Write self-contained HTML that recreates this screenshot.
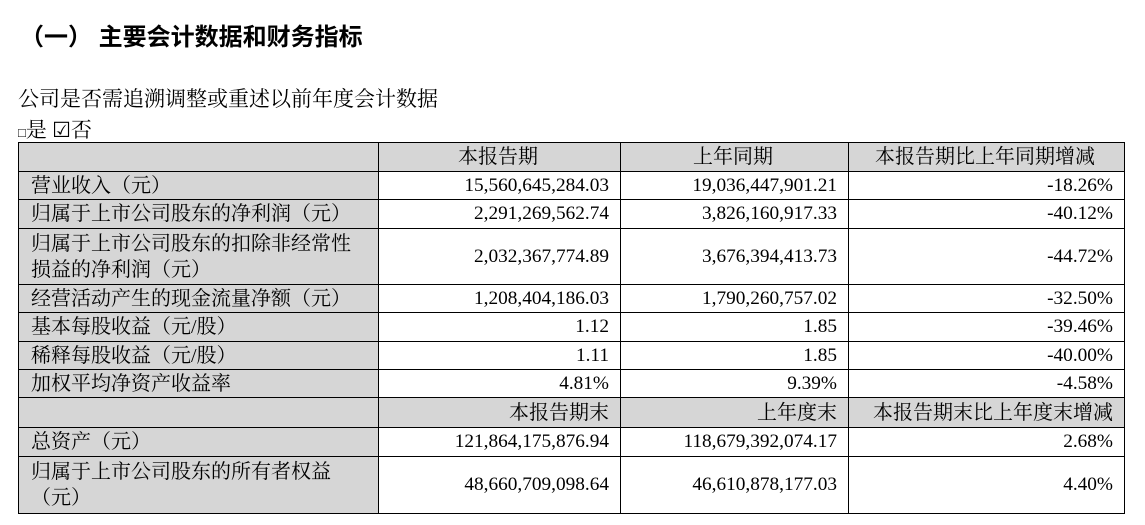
<!DOCTYPE html>
<html><head><meta charset="utf-8"><style>
body{margin:0;width:1145px;height:525px;background:#fff;font-family:"Liberation Serif","Noto Serif CJK SC",serif;color:#000;position:relative;overflow:hidden}
.t{position:absolute;white-space:nowrap}
table{position:absolute;left:18px;top:142px;border-collapse:collapse;table-layout:fixed;font-size:19.3px}
td{border:1.5px solid #000;padding:0 11px 0 8px;line-height:26px;white-space:nowrap;overflow:hidden}
td.g{background:#d6d6d6;font-size:20px}
td.l{padding-left:12px;text-align:left}
td.r{text-align:right}
td.c{text-align:center}
</style></head><body>
<div class="t" style="left:20px;top:17px;font-size:24px;font-weight:bold;font-family:'Liberation Sans','Noto Sans CJK SC',sans-serif">（一） 主要会计数据和财务指标</div>
<div class="t" style="left:18px;top:83px;font-size:21px">公司是否需追溯调整或重述以前年度会计数据</div>
<div class="t" style="left:18px;top:114px;font-size:21px"><span style="font-size:13px">□</span>是 ☑否</div>
<table>
<colgroup><col style="width:360px"><col style="width:242px"><col style="width:228px"><col style="width:276px"></colgroup>
<tr style="height:29px"><td class="g"></td><td class="g c">本报告期</td><td class="g c">上年同期</td><td class="g c">本报告期比上年同期增减</td></tr>
<tr style="height:28px"><td class="g l">营业收入（元）</td><td class="r">15,560,645,284.03</td><td class="r">19,036,447,901.21</td><td class="r">-18.26%</td></tr>
<tr style="height:29px"><td class="g l">归属于上市公司股东的净利润（元）</td><td class="r">2,291,269,562.74</td><td class="r">3,826,160,917.33</td><td class="r">-40.12%</td></tr>
<tr style="height:56px"><td class="g l">归属于上市公司股东的扣除非经常性<br>损益的净利润（元）</td><td class="r">2,032,367,774.89</td><td class="r">3,676,394,413.73</td><td class="r">-44.72%</td></tr>
<tr style="height:28px"><td class="g l">经营活动产生的现金流量净额（元）</td><td class="r">1,208,404,186.03</td><td class="r">1,790,260,757.02</td><td class="r">-32.50%</td></tr>
<tr style="height:29px"><td class="g l">基本每股收益（元/股）</td><td class="r">1.12</td><td class="r">1.85</td><td class="r">-39.46%</td></tr>
<tr style="height:28px"><td class="g l">稀释每股收益（元/股）</td><td class="r">1.11</td><td class="r">1.85</td><td class="r">-40.00%</td></tr>
<tr style="height:28px"><td class="g l">加权平均净资产收益率</td><td class="r">4.81%</td><td class="r">9.39%</td><td class="r">-4.58%</td></tr>
<tr style="height:30px"><td class="g"></td><td class="g r">本报告期末</td><td class="g r">上年度末</td><td class="g r">本报告期末比上年度末增减</td></tr>
<tr style="height:29px"><td class="g l">总资产（元）</td><td class="r">121,864,175,876.94</td><td class="r">118,679,392,074.17</td><td class="r">2.68%</td></tr>
<tr style="height:57px"><td class="g l">归属于上市公司股东的所有者权益<br>（元）</td><td class="r">48,660,709,098.64</td><td class="r">46,610,878,177.03</td><td class="r">4.40%</td></tr>
</table>
</body></html>
